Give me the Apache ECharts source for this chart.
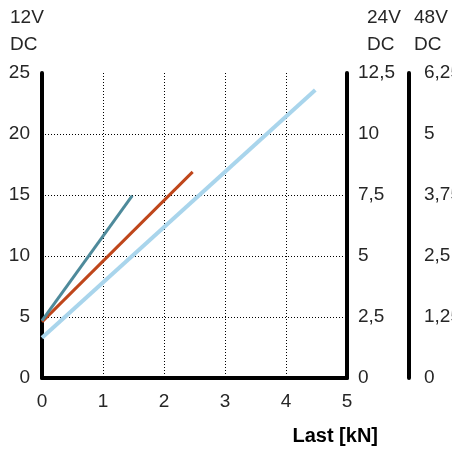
<!DOCTYPE html>
<html>
<head>
<meta charset="utf-8">
<script src="https://cdn.jsdelivr.net/npm/echarts@6/dist/echarts.min.js"></script>
<style>
html,body{margin:0;padding:0;background:#fff;}
#c{width:452px;height:450px;}
</style>
</head>
<body>
<div id="c"></div>
<script>
// Data
var xTicks = [0, 1, 2, 3, 4, 5];
var lineTealX = [0, 1.48];
var lineTealY = [4.7, 14.95];
var lineOrangeX = [0, 2.47];
var lineOrangeY = [4.6, 16.9];
var lineBlueX = [0, 4.48];
var lineBlueY = [3.3, 23.6];
var axis12Labels = ['0', '5', '10', '15', '20', '25'];
var axis24Labels = ['0', '2,5', '5', '7,5', '10', '12,5'];
var axis48Labels = ['0', '1,25', '2,5', '3,75', '5', '6,25'];

function pts(xs, ys) { return xs.map(function (x, i) { return [x, ys[i]]; }); }

var FONT = 'Liberation Sans';
var labelStyle = { color: '#262626', fontSize: 19, fontFamily: FONT };

var chart = echarts.init(document.getElementById('c'), null, { renderer: 'canvas' });

function yAx(labels, max, interval, pos, offset, margin, showSplit) {
  return {
    type: 'value', min: 0, max: max, interval: interval, position: pos, offset: offset,
    axisLine: { show: true, lineStyle: { color: '#000', width: 4 } },
    axisTick: { show: false },
    axisLabel: Object.assign({
      margin: margin,
      formatter: function (v) { var i = Math.round(v / interval); return labels[i]; }
    }, labelStyle),
    splitLine: { show: showSplit, showMaxLine: false, showMinLine: false, lineStyle: { color: '#000', type: [1, 2], width: 1 } }
  };
}

chart.setOption({
  animation: false,
  grid: { left: 42, right: 105, top: 73, bottom: 72, containLabel: false, outerBoundsMode: 'none' },
  xAxis: {
    type: 'value', min: 0, max: 5, interval: 1,
    axisLine: { show: true, lineStyle: { color: '#000', width: 4 } },
    axisTick: { show: false },
    axisLabel: Object.assign({ margin: 14, formatter: function (v) { return String(xTicks[Math.round(v)]); } }, labelStyle),
    splitLine: { show: true, showMaxLine: false, showMinLine: false, lineStyle: { color: '#000', type: [1, 2], width: 1 } }
  },
  yAxis: [
    yAx(axis12Labels, 25, 5, 'left', 0, 12, true),
    yAx(axis24Labels, 12.5, 2.5, 'right', 0, 11, false),
    yAx(axis48Labels, 6.25, 1.25, 'right', 62, 15, false)
  ],
  series: [
    { type: 'line', yAxisIndex: 0, data: pts(lineBlueX, lineBlueY), showSymbol: false, lineStyle: { color: '#a9d5ec', width: 4 } },
    { type: 'line', yAxisIndex: 0, data: pts(lineOrangeX, lineOrangeY), showSymbol: false, lineStyle: { color: '#bf461b', width: 3 } },
    { type: 'line', yAxisIndex: 0, data: pts(lineTealX, lineTealY), showSymbol: false, lineStyle: { color: '#4e8a9b', width: 3 } }
  ],
  graphic: [
    { type: 'text', left: 10, top: 4, style: { text: '12V\nDC', font: '19px "' + FONT + '"', fill: '#262626', lineHeight: 27 } },
    { type: 'text', left: 367, top: 4, style: { text: '24V\nDC', font: '19px "' + FONT + '"', fill: '#262626', lineHeight: 27 } },
    { type: 'text', left: 414, top: 4, style: { text: '48V\nDC', font: '19px "' + FONT + '"', fill: '#262626', lineHeight: 27 } },
    { type: 'text', right: 74, top: 426, style: { text: 'Last [kN]', font: 'bold 20px "' + FONT + '"', fill: '#000' } }
  ]
});
</script>
</body>
</html>
